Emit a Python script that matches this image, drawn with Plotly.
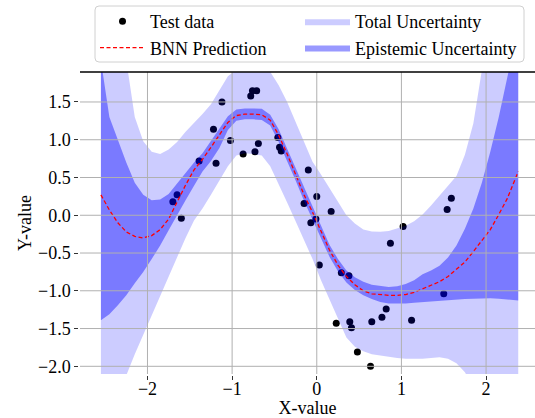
import plotly.graph_objects as go

# ---------------- data ----------------
grid_x = [-2.55, -2.45, -2.35, -2.25, -2.15, -2.05, -1.95, -1.85, -1.75, -1.65,
          -1.55, -1.45, -1.35, -1.25, -1.15, -1.05, -0.95, -0.85, -0.75, -0.65,
          -0.55, -0.45, -0.35, -0.25, -0.15, -0.05, 0.05, 0.15, 0.25, 0.35,
          0.45, 0.55, 0.65, 0.75, 0.85, 0.95, 1.05, 1.15, 1.25, 1.35,
          1.45, 1.55, 1.65, 1.75, 1.85, 1.95, 2.05, 2.15, 2.25, 2.38]

pred_mean = [0.27, 0.07, -0.10, -0.22, -0.28, -0.30, -0.27, -0.19, -0.05, 0.18,
             0.40, 0.60, 0.74, 0.90, 1.06, 1.23, 1.32, 1.34, 1.34, 1.33,
             1.26, 1.06, 0.81, 0.54, 0.27, 0.04, -0.21, -0.46, -0.66, -0.81,
             -0.92, -1.00, -1.04, -1.055, -1.06, -1.06, -1.05, -1.02, -0.97, -0.93,
             -0.88, -0.81, -0.72, -0.62, -0.48, -0.34, -0.19, 0.01, 0.22, 0.58]

epi_upper = [2.05, 1.30, 1.00, 0.70, 0.43, 0.27, 0.20, 0.21, 0.28, 0.42,
             0.57, 0.70, 0.82, 0.98, 1.14, 1.31, 1.40, 1.415, 1.415, 1.41,
             1.33, 1.14, 0.88, 0.63, 0.36, 0.11, -0.13, -0.39, -0.58, -0.73,
             -0.82, -0.88, -0.92, -0.94, -0.95, -0.94, -0.91, -0.86, -0.78, -0.73,
             -0.67, -0.56, -0.40, -0.18, 0.09, 0.43, 0.84, 1.30, 1.78, 2.50]

epi_lower = [-1.39, -1.31, -1.19, -1.06, -0.90, -0.75, -0.58, -0.40, -0.20, 0.01,
             0.20, 0.39, 0.58, 0.72, 0.89, 1.13, 1.25, 1.27, 1.27, 1.26,
             1.19, 0.97, 0.72, 0.46, 0.19, -0.05, -0.30, -0.55, -0.74, -0.89,
             -0.99, -1.06, -1.11, -1.15, -1.17, -1.17, -1.17, -1.16, -1.15, -1.14,
             -1.13, -1.12, -1.115, -1.11, -1.105, -1.10, -1.10, -1.105, -1.115, -1.13]

tot_upper = [3.20, 2.70, 2.30, 2.05, 1.30, 0.98, 0.84, 0.81, 0.87, 0.97,
             1.105, 1.22, 1.34, 1.47, 1.65, 1.84, 1.93, 1.95, 1.95, 1.95,
             1.90, 1.72, 1.50, 1.24, 0.98, 0.71, 0.54, 0.36, 0.17, 0.00,
             -0.11, -0.19, -0.215, -0.22, -0.21, -0.18, -0.14, -0.08, 0.01, 0.13,
             0.26, 0.38, 0.52, 0.80, 1.22, 1.92, 2.60, 3.20, 3.80, 4.50]

tot_lower = [-2.90, -2.70, -2.45, -2.12, -1.84, -1.58, -1.32, -1.07, -0.81, -0.54,
             -0.30, -0.07, 0.09, 0.27, 0.46, 0.65, 0.79, 0.82, 0.81, 0.79,
             0.65, 0.42, 0.17, -0.08, -0.33, -0.58, -0.86, -1.12, -1.37, -1.62,
             -1.74, -1.80, -1.84, -1.86, -1.88, -1.89, -1.90, -1.90, -1.90, -1.89,
             -1.88, -1.90, -1.96, -2.08, -2.25, -2.45, -2.65, -2.85, -3.05, -3.30]

test_x = [-1.70, -1.65, -1.60, -1.39, -1.22, -1.19, -1.12, -1.02, -0.87, -0.78,
          -0.76, -0.71, -0.73, -0.69, -0.46, -0.44, -0.42, -0.10, -0.15, 0.00,
          -0.07, -0.01, 0.17, 0.03, 0.29, 0.38, 0.23, 0.39, 0.41, 0.48,
          0.635, 0.65, 0.77, 0.82, 0.87, 1.02, 1.12, 1.50, 1.54, 1.59]
test_y = [0.18, 0.27, -0.04, 0.72, 1.14, 0.69, 1.50, 0.99, 0.81, 1.58,
          1.65, 1.65, 0.84, 0.95, 1.03, 0.90, 0.85, 0.60, 0.155, 0.25,
          -0.10, -0.05, 0.05, -0.66, -0.76, -0.80, -1.43, -1.41, -1.49, -1.81,
          -2.00, -1.41, -1.35, -1.24, -0.37, -0.15, -1.39, -1.04, 0.075, 0.225]

x_ticks = [-2, -1, 0, 1, 2]
x_ticktext = ["\u22122", "\u22121", "0", "1", "2"]
y_ticks = [-2.0, -1.5, -1.0, -0.5, 0.0, 0.5, 1.0, 1.5]
y_ticktext = ["\u22122.0", "\u22121.5", "\u22121.0", "\u22120.5", "0.0", "0.5", "1.0", "1.5"]

x_range = [-2.797, 2.578]
y_range = [-2.102, 1.897]

FONT = "Liberation Serif, DejaVu Serif, Times New Roman, serif"

fig = go.Figure()

# test points, lowest layer (the translucent bands lie over them)
fig.add_trace(go.Scatter(x=test_x, y=test_y, mode="markers", name="Test data",
                         marker=dict(color="black", size=7), zorder=0,
                         legend="legend", legendrank=1))

# total uncertainty band
fig.add_trace(go.Scatter(x=grid_x, y=tot_lower, mode="lines", line=dict(width=0),
                         showlegend=False, hoverinfo="skip", zorder=1,
                         legend="legend2"))
fig.add_trace(go.Scatter(x=grid_x, y=tot_upper, mode="lines", line=dict(width=0),
                         fill="tonexty", fillcolor="rgba(0,0,255,0.2)", zorder=1,
                         name="Total Uncertainty", legend="legend2", legendrank=1))

# epistemic band
fig.add_trace(go.Scatter(x=grid_x, y=epi_lower, mode="lines", line=dict(width=0),
                         showlegend=False, hoverinfo="skip", zorder=2,
                         legend="legend2"))
fig.add_trace(go.Scatter(x=grid_x, y=epi_upper, mode="lines", line=dict(width=0),
                         fill="tonexty", fillcolor="rgba(0,0,255,0.4)", zorder=2,
                         name="Epistemic Uncertainty", legend="legend2", legendrank=2))

# prediction
fig.add_trace(go.Scatter(x=grid_x, y=pred_mean, mode="lines", name="BNN Prediction",
                         line=dict(color="red", width=1.3, dash="4px,2.5px"), zorder=3,
                         legend="legend", legendrank=2))

shapes = []
for xv in x_ticks:
    shapes.append(dict(type="line", xref="x", yref="paper", x0=xv, x1=xv, y0=0, y1=1,
                       line=dict(color="#b0b0b0", width=1), layer="above"))
for yv in y_ticks:
    shapes.append(dict(type="line", xref="paper", yref="y", x0=0, x1=1, y0=yv, y1=yv,
                       line=dict(color="#b0b0b0", width=1), layer="above"))
# top spine
shapes.append(dict(type="line", xref="paper", yref="paper", x0=0, x1=1, y0=1, y1=1,
                   line=dict(color="black", width=1.5), layer="above"))

# legend frame (rounded rectangle) spanning both legend columns
PW, PH, PB = 455.0, 302.0, 374.0   # plot width, height, bottom (px)
def px2x(p):
    return (p - 80.0) / PW
def py2y(p):
    return (PB - p) / PH
bx0, bx1, by0, by1 = px2x(95), px2x(524), py2y(62), py2y(6)
rx, ry = 4 / PW, 4 / PH
frame_path = (f"M{bx0+rx},{by0} L{bx1-rx},{by0} Q{bx1},{by0} {bx1},{by0+ry} "
              f"L{bx1},{by1-ry} Q{bx1},{by1} {bx1-rx},{by1} "
              f"L{bx0+rx},{by1} Q{bx0},{by1} {bx0},{by1-ry} "
              f"L{bx0},{by0+ry} Q{bx0},{by0} {bx0+rx},{by0} Z")
shapes.append(dict(type="path", xref="paper", yref="paper", path=frame_path,
                   line=dict(color="#d0d0d0", width=1), fillcolor="white", layer="above"))

leg_common = dict(orientation="v", yanchor="top", bgcolor="rgba(0,0,0,0)",
                  borderwidth=0, font=dict(family=FONT, size=18),
                  traceorder="normal", tracegroupgap=0, itemwidth=45)

fig.update_layout(
    width=535, height=418,
    margin=dict(l=80, r=0, t=72, b=44),
    paper_bgcolor="white", plot_bgcolor="white",
    font=dict(family=FONT, size=18, color="black"),
    shapes=shapes,
    showlegend=True,
    legend=dict(x=px2x(95), y=py2y(3), xanchor="left", **leg_common),
    legend2=dict(x=px2x(300), y=py2y(3), xanchor="left", **leg_common),
    xaxis=dict(range=x_range, tickvals=x_ticks, ticktext=x_ticktext, showgrid=False,
               zeroline=False, showline=True, linecolor="#555555", linewidth=1.5,
               ticks="outside", ticklen=4, tickcolor="#333333", automargin=False,
               ticklabelstandoff=-6, tickfont=dict(family=FONT, size=18),
               title=dict(text="X-value", standoff=2, font=dict(family=FONT, size=18))),
    yaxis=dict(range=y_range, tickvals=y_ticks, ticktext=y_ticktext, showgrid=False,
               zeroline=False, showline=True, linecolor="#555555", linewidth=1.5,
               ticks="outside", ticklen=4, tickcolor="#333333", automargin=False,
               tickfont=dict(family=FONT, size=18),
               title=dict(text="Y-value", standoff=2, font=dict(family=FONT, size=18))),
)

fig.write_html("out.html")
